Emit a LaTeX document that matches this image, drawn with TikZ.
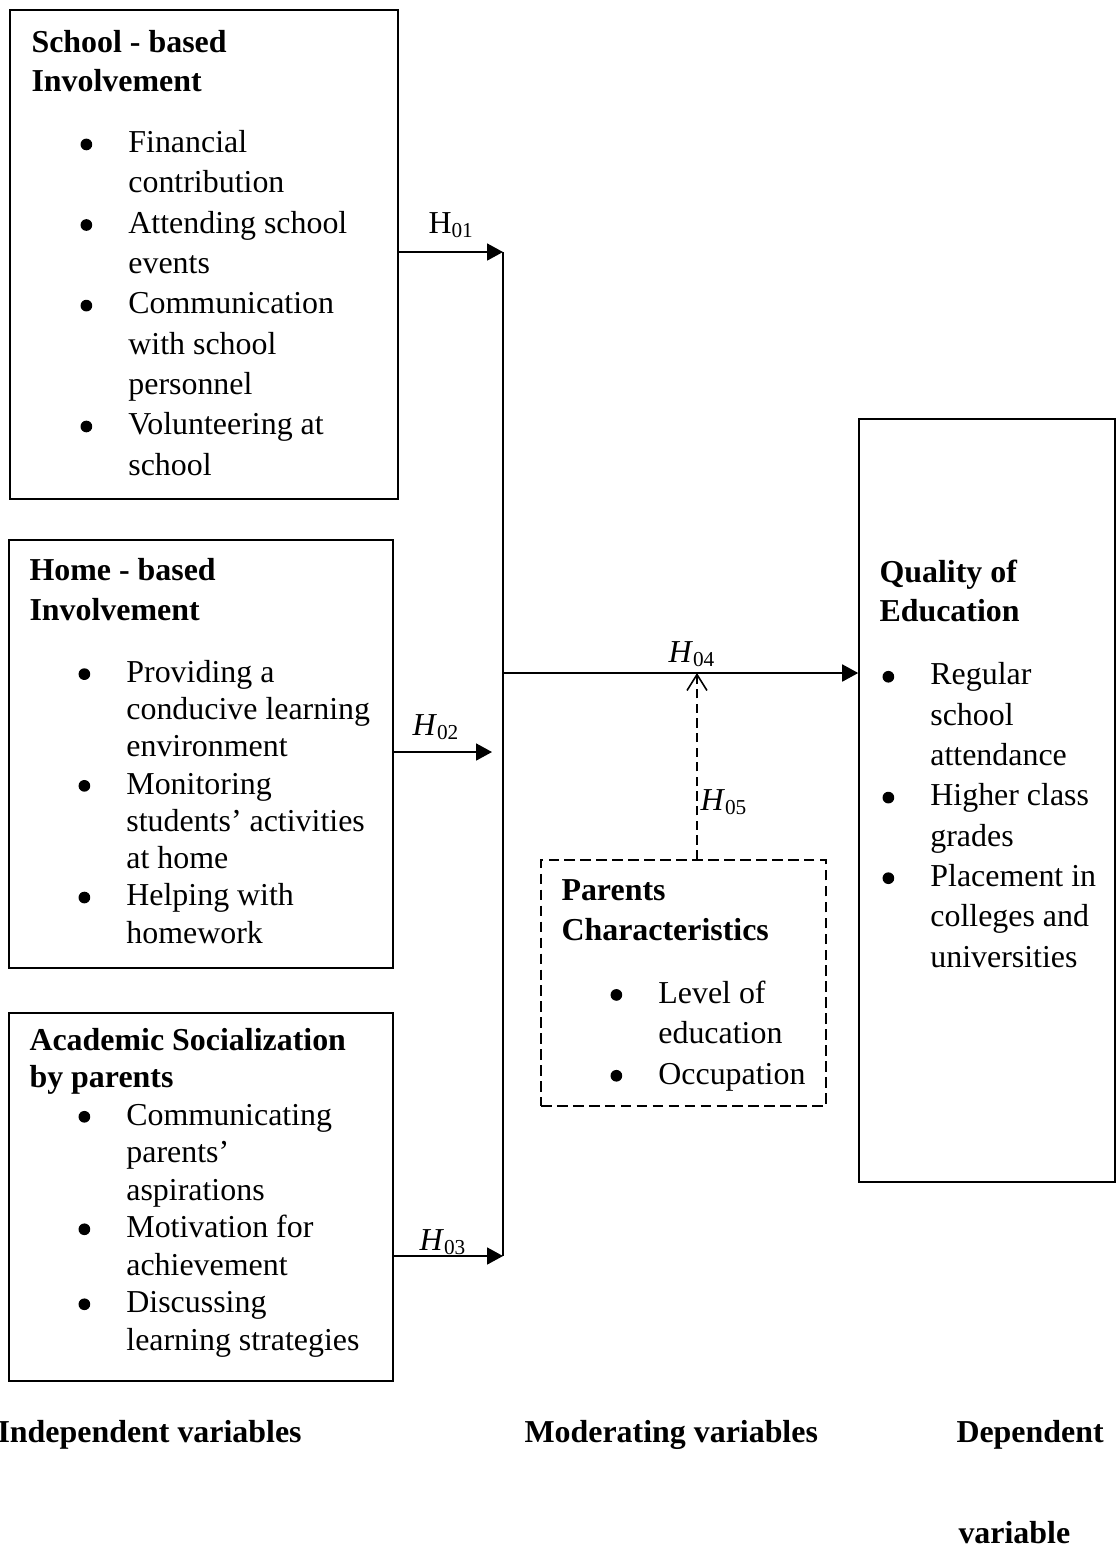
\documentclass[tikz,border=0pt]{standalone}
\usepackage{fontspec}
\setmainfont{Liberation Serif}
\usetikzlibrary{arrows.meta,fit}
\newlength{\tabw}\setlength{\tabw}{18pt}
\newcommand{\bitem}{\makebox[\tabw][l]{\tikz[baseline=0pt]\fill (2.2pt,3.1pt) circle (2.2pt);}}
\newcommand{\bcont}{\hspace*{\tabw}}
\tikzset{
  box/.style={draw, line width=0.6pt, inner sep=0pt},
  dbox/.style={box, dash pattern=on 4pt off 2pt},
  txt/.style={anchor=base west, inner sep=0pt, align=left, font=\fontsize{12}{#1}\selectfont},
  txt/.default=15pt,
  ttl/.style={txt=#1, font=\fontsize{12}{#1}\selectfont\bfseries},
  line/.style={line width=0.6pt},
  arr/.style={line, -{Triangle[length=6pt,width=6.4pt]}},
  darr/.style={line, dash pattern=on 3.5pt off 2pt, -{Straight Barb[length=6pt,width=7.5pt]}},
  hlab/.style={anchor=base west, inner sep=0pt, font=\fontsize{12}{14}\selectfont}
}
\begin{document}
\begin{tikzpicture}[x=0.376pt,y=-0.376pt]
\useasboundingbox (0,0) rectangle (1117,1546);
% boxes
\node[box, fit={(10,10) (398,499)}] (box1) {};
\node[box, fit={(9,540) (393,968)}] (box2) {};
\node[box, fit={(9,1013) (393,1381)}] (box3) {};
\node[box, fit={(859,419) (1115,1182)}] (box4) {};
\node[dbox, fit={(541,860) (826,1106)}] (box5) {};
% titles (placed at the last baseline)
\node[ttl=14.3pt] (t1) at (31,91) {School - based\\Involvement};
\node[ttl=15pt] (t2) at (29,620) {Home - based\\Involvement};
\node[ttl=13.9pt] (t3) at (29,1087) {Academic Socialization\\by parents};
\node[ttl=14.3pt] (t4) at (879,621) {Quality of\\Education};
\node[ttl=14.7pt] (t5) at (561,940) {Parents\\Characteristics};
% bullet lists
\node[txt=15.15pt] (l1) at (80,475) {\bitem Financial\\ \bcont contribution\\
  \bitem Attending school\\ \bcont events\\
  \bitem Communication\\ \bcont with school\\ \bcont personnel\\
  \bitem Volunteering at\\ \bcont school};
\node[txt=14pt] (l2) at (78,943) {\bitem Providing a\\ \bcont conducive learning\\ \bcont environment\\
  \bitem Monitoring\\ \bcont students’ activities\\ \bcont at home\\
  \bitem Helping with\\ \bcont homework};
\node[txt=14.1pt] (l3) at (78,1350) {\bitem Communicating\\ \bcont parents’\\ \bcont aspirations\\
  \bitem Motivation for\\ \bcont achievement\\
  \bitem Discussing\\ \bcont learning strategies};
\node[txt=15.15pt] (l4) at (882,967) {\bitem Regular\\ \bcont school\\ \bcont attendance\\
  \bitem Higher class\\ \bcont grades\\
  \bitem Placement in\\ \bcont colleges and\\ \bcont universities};
\node[txt=15.2pt] (l5) at (610,1084) {\bitem Level of\\ \bcont education\\
  \bitem Occupation};
% connectors
\coordinate (bt) at (503,252);
\coordinate (bb) at (503,1256);
\coordinate (mid) at (503,673);
\coordinate (a2) at (492,752);
\coordinate (dk) at (697,673);
\draw[line] (bt) -- (bb);
\draw[arr] (box1.east |- bt) -- (bt);
\draw[arr] (box2.east |- a2) -- (a2);
\draw[arr] (box3.east |- bb) -- (bb);
\draw[arr] (mid) -- (mid -| box4.west);
\draw[darr] (dk |- box5.north) -- (dk);
% hypothesis labels
\node[hlab] (h1) at (428,233) {H\textsubscript{01}};
\node[hlab] (h2) at (412,735) {\textit{H}\textsubscript{02}};
\node[hlab] (h3) at (419,1250) {\textit{H}\textsubscript{03}};
\node[hlab] (h4) at (668,662) {\textit{H}\textsubscript{04}};
\node[hlab] (h5) at (700,810) {\textit{H}\textsubscript{05}};
% variable types
\node[ttl=15pt] (ind) at (-3,1442) {Independent variables};
\node[ttl=15pt] (mod) at (524,1442) {Moderating variables};
\node[ttl=15pt] (dep) at (956,1442) {Dependent};
\node[ttl=15pt] (dep2) at (958,1543) {variable};
\end{tikzpicture}
\end{document}
